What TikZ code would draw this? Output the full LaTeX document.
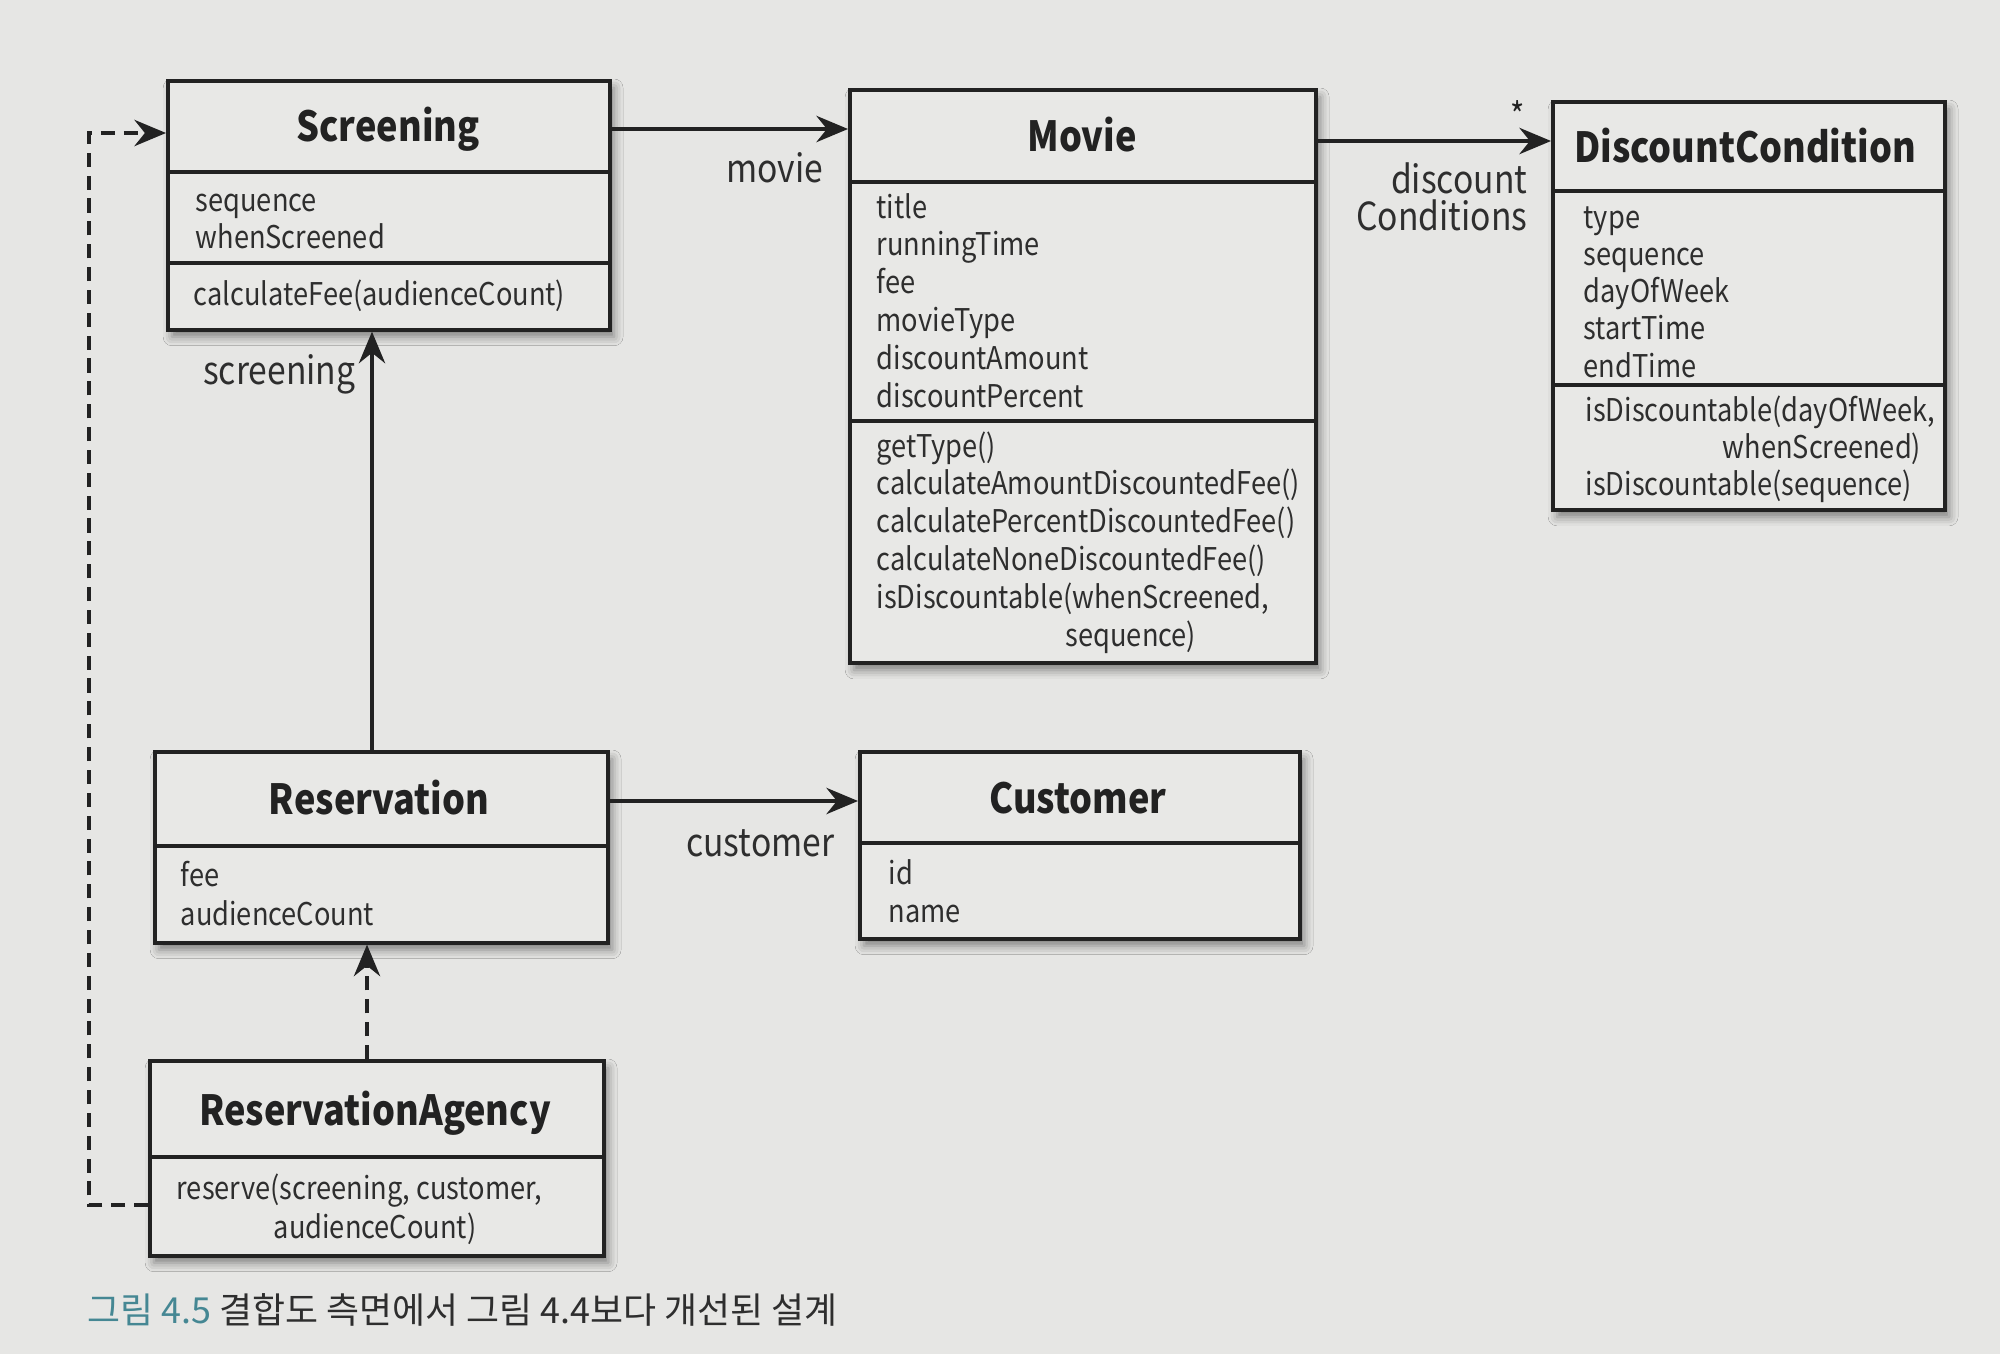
\documentclass[tikz,border=0pt]{standalone}
\usepackage{fontspec}
\setmainfont{Noto Sans CJK KR}
\newfontfamily\umlfont{Noto Sans CJK KR}[FakeStretch=0.87]
\usetikzlibrary{arrows.meta,shadows.blur}
\definecolor{paper}{HTML}{E6E6E4}
\definecolor{boxfill}{HTML}{E8E8E6}
\definecolor{ink}{HTML}{222222}
\definecolor{txt}{HTML}{2E2E2E}
\definecolor{capteal}{HTML}{458793}
\tikzset{
 classbox/.style={draw=ink, line width=1pt, fill=boxfill, inner sep=0pt, anchor=north west,
   blur shadow={shadow xshift=1.2pt, shadow yshift=-2pt, shadow blur radius=2.5pt, shadow opacity=45}},
 sepline/.style={draw=ink, line width=1pt},
 ctitle/.style={font=\umlfont\fontsize{11.8}{13}\selectfont\bfseries, text=ink, inner sep=0pt},
 member/.style={font=\umlfont\fontsize{8.9}{10.7}\selectfont, text=txt, inner sep=0pt, anchor=base west},
 rolelabel/.style={font=\umlfont\fontsize{11}{13}\selectfont, text=txt, inner sep=0pt, anchor=base east},
 assoc/.style={draw=ink, line width=0.9pt, -{Stealth[length=9pt,width=7.5pt,inset=3pt]}},
 depend/.style={assoc, dash pattern=on 4pt off 2.5pt},
}
\begin{document}
\begin{tikzpicture}[x=0.01cm, y=-0.01cm]
\fill[paper] (0,0) rectangle (2000,1354);
\useasboundingbox (0,0) rectangle (2000,1354);

% ---------- Screening
\node[classbox, minimum width=4.42cm, minimum height=2.49cm] (scr) at (166,79) {};
\draw[sepline] (166,172) -- (608,172);
\draw[sepline] (166,263) -- (608,263);
\node[ctitle] (scrT) at (388,129) {Screening};
\foreach \m [count=\i from 0] in {sequence, whenScreened}
  \node[member] (scrA\i) at (195,{211+\i*37.3}) {\m};
\node[member] (scrM0) at (193,305) {calculateFee(audienceCount)};

% ---------- Movie
\node[classbox, minimum width=4.66cm, minimum height=5.73cm] (movie) at (848,88) {};
\draw[sepline] (848,182) -- (1314,182);
\draw[sepline] (848,421) -- (1314,421);
\node[ctitle] (movieT) at (1082,135) {Movie};
\foreach \m [count=\i from 0] in {title, runningTime, fee, movieType, discountAmount, discountPercent}
  \node[member] (mvA\i) at (876,{218+\i*37.8}) {\m};
\foreach \m [count=\i from 0] in {getType(), calculateAmountDiscountedFee(), calculatePercentDiscountedFee(), calculateNoneDiscountedFee(), {isDiscountable(whenScreened,}}
  \node[member] (mvM\i) at (876,{457+\i*37.8}) {\m};
\node[member] (mvM5) at (1065,646) {sequence)};

% ---------- DiscountCondition
\node[classbox, minimum width=3.92cm, minimum height=4.08cm] (dc) at (1551,100) {};
\draw[sepline] (1551,191) -- (1943,191);
\draw[sepline] (1551,385) -- (1943,385);
\node[ctitle] (dcT) at (1745,146) {DiscountCondition};
\foreach \m [count=\i from 0] in {type, sequence, dayOfWeek, startTime, endTime}
  \node[member] (dcA\i) at (1583,{228+\i*37.3}) {\m};
\node[member] (dcM0) at (1585,421) {isDiscountable(dayOfWeek,};
\node[member] (dcM1) at (1722,458) {whenScreened)};
\node[member] (dcM2) at (1585,495) {isDiscountable(sequence)};

% ---------- Reservation
\node[classbox, minimum width=4.53cm, minimum height=1.91cm] (res) at (153,750) {};
\draw[sepline] (153,846) -- (606,846);
\node[ctitle] (resT) at (379,798) {Reservation};
\node[member] (resA0) at (180,886) {fee};
\node[member] (resA1) at (180,925) {audienceCount};

% ---------- Customer
\node[classbox, minimum width=4.40cm, minimum height=1.87cm] (cust) at (858,750) {};
\draw[sepline] (858,843) -- (1298,843);
\node[ctitle] (custT) at (1078,798) {Customer};
\node[member] (custA0) at (888,884) {id};
\node[member] (custA1) at (888,922) {name};

% ---------- ReservationAgency
\node[classbox, minimum width=4.54cm, minimum height=1.95cm] (ag) at (148,1059) {};
\draw[sepline] (148,1157) -- (602,1157);
\node[ctitle] (agT) at (375,1113) {ReservationAgency};
\node[member] (agM0) at (176,1199) {reserve(screening, customer,};
\node[member] (agM1) at (273,1238) {audienceCount)};

% ---------- connectors
\coordinate (y1) at (0,129);
\draw[assoc] (scr.east |- y1) -- (movie.west |- y1);
\coordinate (y2) at (0,141);
\draw[assoc] (movie.east |- y2) -- (dc.west |- y2);
\coordinate (x3) at (372,0);
\draw[assoc] (res.north -| x3) -- (scr.south -| x3);
\coordinate (y4) at (0,801);
\draw[assoc] (res.east |- y4) -- (cust.west |- y4);
\coordinate (x5) at (367,0);
\draw[depend] (ag.north -| x5) -- (res.south -| x5);
\coordinate (y6) at (0,1205);
\coordinate (y7) at (0,133);
\coordinate (x8) at (89,0);
\draw[depend] (ag.west |- y6) -- (x8 |- y6) -- (x8 |- y7) -- (scr.west |- y7);

% ---------- labels
\node[rolelabel] (lmovie) at (824,182) {movie};
\node[rolelabel] (ldisc1) at (1528,193) {discount};
\node[rolelabel] (ldisc2) at (1528,230) {Conditions};
\node[font=\umlfont\fontsize{10}{11}\selectfont, text=ink, inner sep=0pt] (mult) at (1518,114) {*};
\node[rolelabel] (lscr) at (356,384) {screening};
\node[rolelabel] (lcust) at (835,856) {customer};

% ---------- caption
\node[anchor=base west, inner sep=0pt, font=\fontsize{10.2}{12}\selectfont] (cap) at (87,1323)
  {\textcolor{capteal}{그림 4.5} \textcolor{txt}{결합도 측면에서 그림 4.4보다 개선된 설계}};
\end{tikzpicture}
\end{document}
